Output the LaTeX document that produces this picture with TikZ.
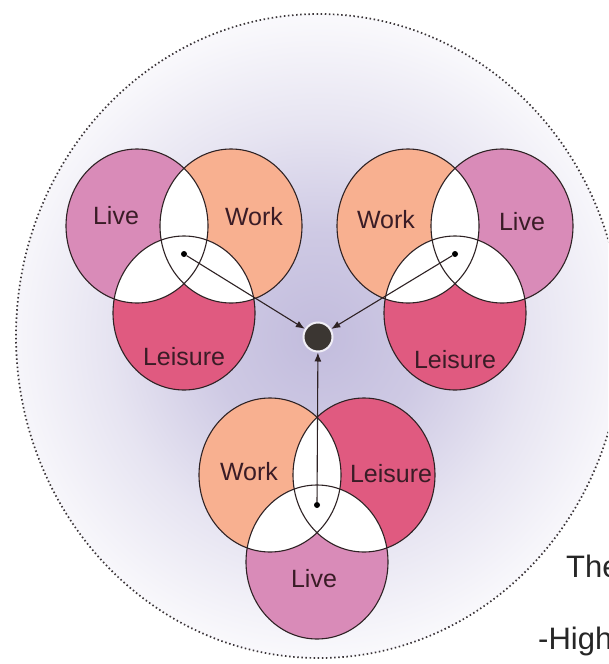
\documentclass[tikz,border=0pt]{standalone}
\usepackage{fontspec}
\setmainfont{Liberation Sans}
\usetikzlibrary{arrows.meta}
\definecolor{livec}{HTML}{D98BB8}
\definecolor{workc}{HTML}{F8B090}
\definecolor{leisc}{HTML}{E05A80}
\definecolor{inkc}{HTML}{2E2224}
\definecolor{txtc}{HTML}{3A1C26}
\definecolor{glowc}{HTML}{C2BCDD}
\definecolor{dotc}{HTML}{3B3632}
\definecolor{rimc}{HTML}{3A3438}
\pgfdeclareradialshading{glowshade}{\pgfpoint{0bp}{0bp}}{color(0bp)=(glowc); color(6bp)=(glowc!80!white); color(12bp)=(glowc!40!white); color(18bp)=(glowc!10!white); color(23bp)=(white); color(50bp)=(white)}
\newcommand\blobA[1]{(#1) ellipse [x radius=71pt, y radius=77pt]}
\newcommand\myvenn[6]{%
  \fill[#4] \blobA{#1};
  \fill[#5] \blobA{#2};
  \fill[#6] \blobA{#3};
  \begin{scope}\clip \blobA{#1}; \fill[white] \blobA{#2}; \fill[white] \blobA{#3};\end{scope}
  \begin{scope}\clip \blobA{#2}; \fill[white] \blobA{#3};\end{scope}
  \draw[ring] \blobA{#1};
  \draw[ring] \blobA{#2};
  \draw[ring] \blobA{#3};
}
\begin{document}
\begin{tikzpicture}[x=1pt,y=-1pt,
  lbl/.style={font=\fontsize{25}{30}\selectfont, text=txtc, inner sep=0pt},
  side/.style={font=\fontsize{31}{36}\selectfont, text=black!85, inner sep=0pt},
  ring/.style={draw=inkc, line width=1.1pt},
  smalldot/.style={circle, fill=black, inner sep=0pt, minimum size=6pt},
  hub/.style={circle, fill=dotc, draw=white!75!glowc, line width=2pt, minimum size=29pt, inner sep=0pt},
  arr/.style={draw=inkc, line width=1.1pt, -{Latex[length=9pt,width=7pt]}}]
\useasboundingbox (0,0) rectangle (608,664);
\clip (0,0) rectangle (608,664);
\fill[white] (0,0) rectangle (608,664);
\begin{scope}
  \clip (319,336) ellipse [x radius=303pt, y radius=322pt];
  \shade[shading=glowshade] (318,337) circle (440pt);
\end{scope}
\draw[rimc, line width=1.7pt, dash pattern=on 1.5pt off 2.6pt] (319,336) ellipse [x radius=303pt, y radius=322pt];

% centres
\coordinate (tlLive) at (137,226);
\coordinate (tlWork) at (231,226);
\coordinate (tlLeis) at (184,313);
\coordinate (trWork) at (408,226);
\coordinate (trLive) at (502,226);
\coordinate (trLeis) at (455,313);
\coordinate (bWork) at (270,475);
\coordinate (bLeis) at (364,475);
\coordinate (bLive) at (317,562);

\myvenn{tlLive}{tlWork}{tlLeis}{livec}{workc}{leisc}
\myvenn{trWork}{trLive}{trLeis}{workc}{livec}{leisc}
\myvenn{bWork}{bLeis}{bLive}{workc}{leisc}{livec}

\node[lbl] (l1) at (116,216) {Live};
\node[lbl] (w1) at (254,217) {Work};
\node[lbl] (s1) at (184,357) {Leisure};
\node[lbl] (w2) at (386,220) {Work};
\node[lbl] (l2) at (522,222) {Live};
\node[lbl] (s2) at (455,360) {Leisure};
\node[lbl] (w3) at (249,472) {Work};
\node[lbl] (s3) at (391,474) {Leisure};
\node[lbl] (l3) at (314,579) {Live};

\node[hub] (hub) at (318,337) {};
\node[smalldot] (d1) at (184,254) {};
\node[smalldot] (d2) at (455,254) {};
\node[smalldot] (d3) at (317,505) {};
\draw[arr] (d1) -- (hub);
\draw[arr] (d2) -- (hub);
\draw[arr] (d3) -- (hub);

\node[side, anchor=base west] (t1) at (566,577) {The};
\node[side, anchor=base west] (t2) at (538,649) {-High};
\end{tikzpicture}
\end{document}
